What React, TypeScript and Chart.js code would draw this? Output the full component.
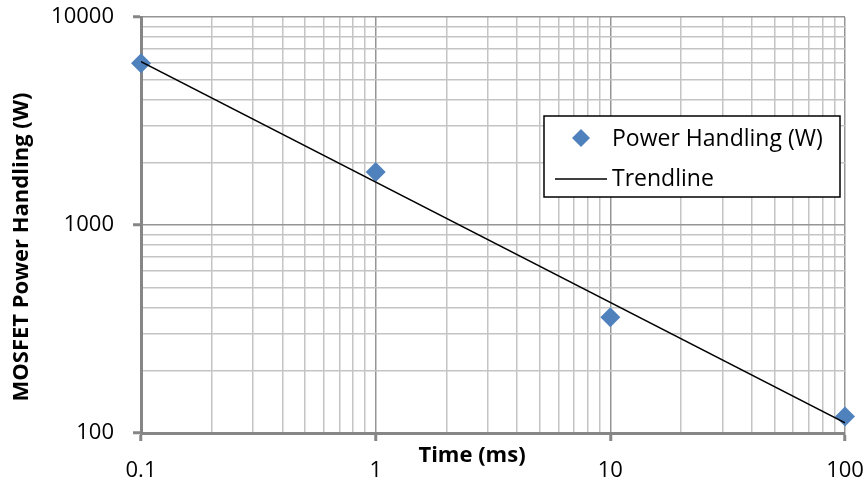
import React, { useEffect, useRef } from "react";
import { Chart, registerables } from "chart.js";

Chart.register(...registerables);

// ---- data ----
const seriesLabel = "Power Handling (W)";
const timeMs = [0.1, 1, 10, 100];
const powerW = [6000, 1800, 360, 120];

const trendLabel = "Trendline";
const trendTime = [0.1, 100];
const trendPower = [6100, 112];

const xTickValues = [0.1, 1, 10, 100];
const xTickLabels = ["0.1", "1", "10", "100"];
const yTickValues = [100, 1000, 10000];
const yTickLabels = ["100", "1000", "10000"];

const xTitle = "Time (ms)";
const yTitle = "MOSFET Power Handling (W)";

// ---- style ----
const FONT = '"Open Sans", "DejaVu Sans", sans-serif';
const TICK_SIZE = 22;
const LEGEND_SIZE = 23;
const TITLE_SIZE = 22;
const AXIS_COLOR = "#868686";
const MAJOR_GRID = "#959595";
const MINOR_GRID = "#c4c4c4";
const MARKER = "#4F81BD";

type T = { value: number; major: boolean };

function gridTicks(majors: number[]): T[] {
  const out: T[] = [];
  majors.forEach((v, i) => {
    out.push({ value: v, major: true });
    if (i < majors.length - 1) {
      for (let m = 2; m <= 9; m++) out.push({ value: v * m, major: false });
    }
  });
  return out;
}

function labelFor(values: number[], labels: string[], v: number) {
  const i = values.findIndex((x) => Math.abs(x - v) / x < 1e-6);
  return i >= 0 ? labels[i] : "";
}

const overlayPlugin = {
  id: "overlay",
  afterDraw(chart: any) {
    const ctx = chart.ctx as CanvasRenderingContext2D;
    ctx.save();
    // legend box
    const lx = 544, ly = 116, lw = 296, lh = 81;
    ctx.fillStyle = "#ffffff";
    ctx.fillRect(lx, ly, lw, lh);
    ctx.strokeStyle = "#000000";
    ctx.lineWidth = 1.5;
    ctx.strokeRect(lx, ly, lw, lh);

    const ds0 = chart.data.datasets[0];
    const ds1 = chart.data.datasets[1];
    // marker entry
    const cx = 581, cy = 138, r = 9;
    ctx.beginPath();
    ctx.moveTo(cx, cy - r);
    ctx.lineTo(cx + r, cy);
    ctx.lineTo(cx, cy + r);
    ctx.lineTo(cx - r, cy);
    ctx.closePath();
    ctx.fillStyle = ds0.backgroundColor;
    ctx.fill();

    ctx.fillStyle = "#000";
    ctx.font = `${LEGEND_SIZE}px ${FONT}`;
    ctx.textBaseline = "middle";
    ctx.textAlign = "left";
    ctx.fillText(ds0.label, 612, 139);

    // line entry
    ctx.beginPath();
    ctx.moveTo(555, 179);
    ctx.lineTo(607, 179);
    ctx.strokeStyle = ds1.borderColor;
    ctx.lineWidth = 1.5;
    ctx.stroke();
    ctx.fillText(ds1.label, 612, 179);

    // axis titles
    ctx.font = `bold ${TITLE_SIZE}px ${FONT}`;
    ctx.textAlign = "center";
    ctx.fillText(xTitle, 472, 456);
    ctx.translate(22, 247);
    ctx.rotate(-Math.PI / 2);
    ctx.fillText(yTitle, 0, 0);
    ctx.restore();
  },
};

export default function App() {
  const canvasRef = useRef<HTMLCanvasElement | null>(null);

  useEffect(() => {
    if (!canvasRef.current) return;
    const chart = new Chart(canvasRef.current, {
      type: "scatter",
      data: {
        datasets: [
          {
            type: "scatter",
            label: seriesLabel,
            data: timeMs.map((t, i) => ({ x: t, y: powerW[i] })),
            pointStyle: "rectRot",
            pointRadius: 10,
            backgroundColor: MARKER,
            borderColor: MARKER,
            borderWidth: 0,
            clip: false,
            order: 1,
          } as any,
          {
            type: "line",
            label: trendLabel,
            data: trendTime.map((t, i) => ({ x: t, y: trendPower[i] })),
            borderColor: "#000000",
            borderWidth: 1.5,
            pointRadius: 0,
            fill: false,
            order: 0,
          } as any,
        ],
      },
      options: {
        animation: false,
        responsive: true,
        maintainAspectRatio: false,
        layout: { padding: { top: 17, right: 22, left: 0, bottom: 0 } },
        plugins: { legend: { display: false }, tooltip: { enabled: false } },
        scales: {
          x: {
            type: "logarithmic",
            position: "bottom",
            min: 0.1,
            max: 100,
            afterBuildTicks: (s: any) => {
              s.ticks = gridTicks(xTickValues);
            },
            afterFit: (s: any) => {
              s.height = 50;
              s.paddingLeft = 0;
              s.paddingRight = 0;
              s.paddingTop = 0;
              s.paddingBottom = 0;
            },
            ticks: {
              autoSkip: false,
              maxRotation: 0,
              minRotation: 0,
              padding: 17,
              color: "#000",
              font: { family: FONT, size: TICK_SIZE },
              callback: (v: any, i: number, ticks: any[]) =>
                ticks[i] && ticks[i].major ? labelFor(xTickValues, xTickLabels, Number(v)) : "",
            },
            grid: {
              color: (c: any) => (c.tick && c.tick.major ? MAJOR_GRID : MINOR_GRID),
              lineWidth: 1.5,
              drawTicks: true,
              tickLength: 8,
              tickWidth: 3,
              tickColor: (c: any) => (c.tick && c.tick.major ? AXIS_COLOR : "rgba(0,0,0,0)"),
            },
            border: { display: true, color: AXIS_COLOR, width: 3 },
          },
          y: {
            type: "logarithmic",
            position: "left",
            min: 100,
            max: 10000,
            afterBuildTicks: (s: any) => {
              s.ticks = gridTicks(yTickValues);
            },
            afterFit: (s: any) => {
              s.width = 141;
              s.paddingLeft = 0;
              s.paddingRight = 0;
              s.paddingTop = 0;
              s.paddingBottom = 0;
            },
            ticks: {
              autoSkip: false,
              padding: 19,
              color: "#000",
              font: { family: FONT, size: TICK_SIZE },
              callback: (v: any, i: number, ticks: any[]) =>
                ticks[i] && ticks[i].major ? labelFor(yTickValues, yTickLabels, Number(v)) : "",
            },
            grid: {
              color: (c: any) => (c.tick && c.tick.major ? MAJOR_GRID : MINOR_GRID),
              lineWidth: 1.5,
              drawTicks: true,
              tickLength: 8,
              tickWidth: 3,
              tickColor: (c: any) => (c.tick && c.tick.major ? AXIS_COLOR : "rgba(0,0,0,0)"),
            },
            border: { display: true, color: AXIS_COLOR, width: 3 },
          },
        },
      } as any,
      plugins: [overlayPlugin],
    });
    return () => chart.destroy();
  }, []);

  return (
    <div style={{ position: "fixed", left: 0, top: 0, width: 867, height: 483, background: "#fff" }}>
      <canvas ref={canvasRef} />
    </div>
  );
}
